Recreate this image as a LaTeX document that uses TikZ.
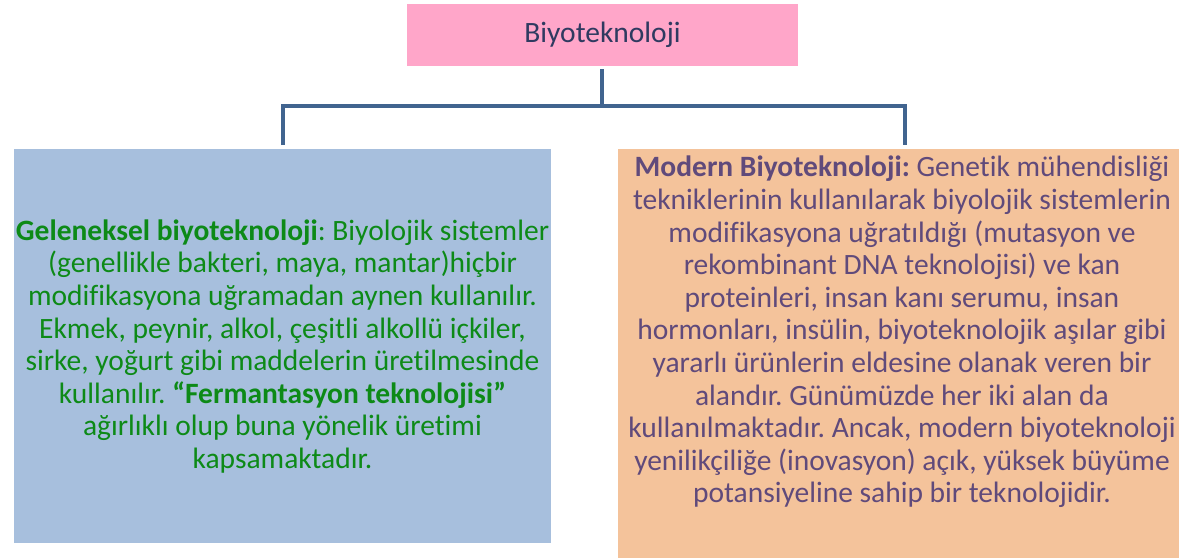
\documentclass[tikz,border=0pt]{standalone}
\usepackage{fontspec}
\setmainfont{Carlito}[Ligatures=NoCommon]
\frenchspacing
\definecolor{pinkfill}{HTML}{FFA6C9}
\definecolor{bluefill}{HTML}{A7BFDD}
\definecolor{orangefill}{HTML}{F4C39B}
\definecolor{linecol}{HTML}{41648F}
\definecolor{greentext}{HTML}{0D8A17}
\definecolor{purpletext}{HTML}{604A7B}
\definecolor{navytext}{HTML}{2F3A60}
\tikzset{
  boxstyle/.style={draw=none, inner sep=0pt, outer sep=0pt},
  conn/.style={draw=linecol, line width=3.5pt},
  bodytext/.style={inner sep=0pt, align=center, font=\fontsize{29.5}{32.6}\selectfont},
}
\begin{document}
\begin{tikzpicture}[x=1pt,y=-1pt]
\useasboundingbox[fill=white] (0,0) rectangle (1179,558);
\node[boxstyle, fill=pinkfill, minimum width=391pt, minimum height=62pt,
      font=\fontsize{29.5}{32}\selectfont, text=navytext] (top) at (602.5,35) {Biyoteknoloji};
\node[boxstyle, fill=bluefill, minimum width=537pt, minimum height=394pt] (left) at (282.5,346) {};
\node[boxstyle, fill=orangefill, minimum width=561pt, minimum height=409pt] (right) at (898.5,353.5) {};
\coordinate (ltop) at (283,145);
\coordinate (rtop) at (905,145);
\coordinate (mid) at (602,106);
\coordinate (tbot) at (602,69);
\draw[conn] (tbot) -- (mid);
\draw[conn] (ltop) -- (ltop |- mid) -- (rtop |- mid) -- (rtop);
\node[bodytext, text=greentext] (ltext) at (282.5,346.5) {%
\textbf{Geleneksel biyoteknoloji}: Biyolojik sistemler\\
(genellikle bakteri, maya, mantar)hiçbir\\
modifikasyona uğramadan aynen kullanılır.\\
Ekmek, peynir, alkol, çeşitli alkollü içkiler,\\
sirke, yoğurt gibi maddelerin üretilmesinde\\
kullanılır. \textbf{“Fermantasyon teknolojisi”}\\
ağırlıklı olup buna yönelik üretimi\\
kapsamaktadır.};
\node[bodytext, text=purpletext] (rtext) at (902,332) {%
\textbf{Modern Biyoteknoloji:} Genetik mühendisliği\\
tekniklerinin kullanılarak biyolojik sistemlerin\\
modifikasyona uğratıldığı (mutasyon ve\\
rekombinant DNA teknolojisi) ve kan\\
proteinleri, insan kanı serumu, insan\\
hormonları, insülin, biyoteknolojik aşılar gibi\\
yararlı ürünlerin eldesine olanak veren bir\\
alandır. Günümüzde her iki alan da\\
kullanılmaktadır. Ancak, modern biyoteknoloji\\
yenilikçiliğe (inovasyon) açık, yüksek büyüme\\
potansiyeline sahip bir teknolojidir.};
\end{tikzpicture}
\end{document}
